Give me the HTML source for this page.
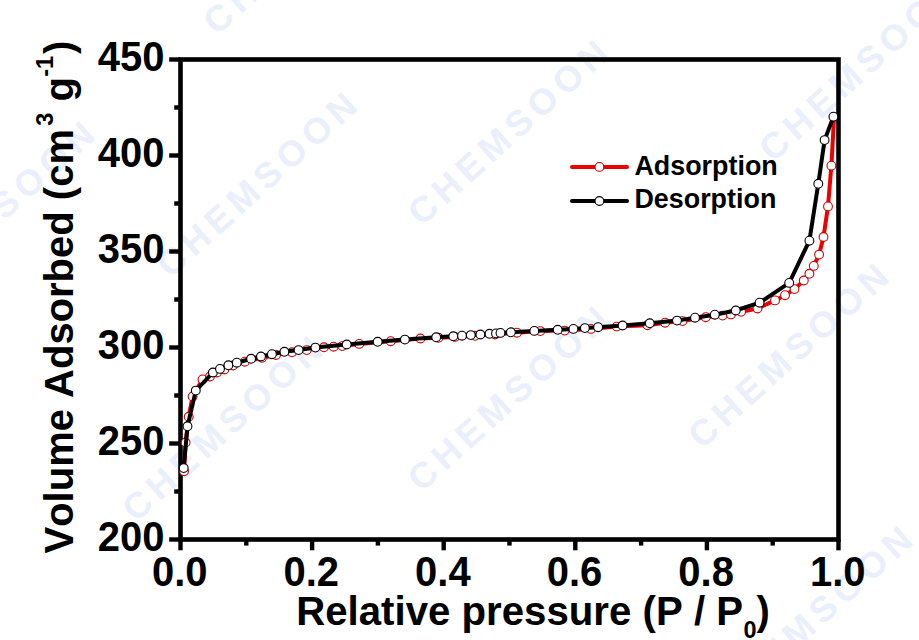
<!DOCTYPE html>
<html><head><meta charset="utf-8"><title>Isotherm</title>
<style>
html,body{margin:0;padding:0;background:#fff;}
body{width:919px;height:640px;overflow:hidden;}
svg{display:block;}
text{font-family:"Liberation Sans",Arial,sans-serif;font-weight:bold;fill:#000;font-kerning:none;}
.wm text{font-size:36px;letter-spacing:6px;fill:#e9f0fb;}
.lbl text{font-size:40px;}
.ttl{font-size:40px;}
.sup{font-size:23.5px;}
.leg{font-size:26.9px;}
</style></head>
<body>
<svg width="919" height="640" viewBox="0 0 919 640">
<rect width="919" height="640" fill="#fff"/>
<g class="wm"><text transform="translate(170.5 279) rotate(-42)">CHEMSOON</text><text transform="translate(421.7 227) rotate(-42)">CHEMSOON</text><text transform="translate(773 163) rotate(-42)">CHEMSOON</text><text transform="translate(136 523) rotate(-42)">CHEMSOON</text><text transform="translate(421.5 493) rotate(-42)">CHEMSOON</text><text transform="translate(702 450) rotate(-42)">CHEMSOON</text><text transform="translate(-92 308) rotate(-42)">CHEMSOON</text><text transform="translate(217 36) rotate(-42)">CHEMSOON</text><text transform="translate(726 713) rotate(-42)">CHEMSOON</text></g>
<g stroke="#000" stroke-width="4.4" stroke-linecap="butt"><rect x="180.5" y="59.5" width="658.0" height="480.0" fill="none" stroke="#000" stroke-width="4.6"/><line x1="169.2" y1="539.5" x2="180.5" y2="539.5"/><line x1="174.2" y1="491.5" x2="180.5" y2="491.5"/><line x1="169.2" y1="443.5" x2="180.5" y2="443.5"/><line x1="174.2" y1="395.5" x2="180.5" y2="395.5"/><line x1="169.2" y1="347.5" x2="180.5" y2="347.5"/><line x1="174.2" y1="299.5" x2="180.5" y2="299.5"/><line x1="169.2" y1="251.5" x2="180.5" y2="251.5"/><line x1="174.2" y1="203.5" x2="180.5" y2="203.5"/><line x1="169.2" y1="155.5" x2="180.5" y2="155.5"/><line x1="174.2" y1="107.5" x2="180.5" y2="107.5"/><line x1="169.2" y1="59.5" x2="180.5" y2="59.5"/><line x1="180.5" y1="539.5" x2="180.5" y2="550.3"/><line x1="246.3" y1="539.5" x2="246.3" y2="545.6"/><line x1="312.1" y1="539.5" x2="312.1" y2="550.3"/><line x1="377.9" y1="539.5" x2="377.9" y2="545.6"/><line x1="443.7" y1="539.5" x2="443.7" y2="550.3"/><line x1="509.5" y1="539.5" x2="509.5" y2="545.6"/><line x1="575.3" y1="539.5" x2="575.3" y2="550.3"/><line x1="641.1" y1="539.5" x2="641.1" y2="545.6"/><line x1="706.9" y1="539.5" x2="706.9" y2="550.3"/><line x1="772.7" y1="539.5" x2="772.7" y2="545.6"/><line x1="838.5" y1="539.5" x2="838.5" y2="550.3"/></g>
<polyline points="184.0,471.3 185.6,442.5 188.7,416.8 192.6,396.5 202.5,379.4 210.0,376.5 217.0,372.5 224.4,369.5 233.0,365.5 244.8,361.7 262.0,357.8 276.0,355.0 292.0,352.3 306.7,350.1 323.9,347.3 333.6,346.7 342.3,346.1 359.2,343.9 390.7,341.2 420.4,338.5 438.5,337.8 455.0,336.9 475.0,335.8 495.0,334.5 516.9,332.7 540.3,331.1 564.7,330.6 590.9,328.9 616.7,326.6 647.5,325.2 665.1,322.7 682.5,321.1 705.8,317.2 722.6,315.6 730.9,314.4 741.1,311.8 757.5,308.5 775.0,300.4 785.0,295.2 794.5,289.1 803.8,280.5 809.4,273.8 813.8,265.9 819.1,254.6 823.5,237.0 828.0,206.4 831.4,165.7 834.0,118.5" fill="none" stroke="#ee0000" stroke-width="4" stroke-linejoin="round"/>
<g fill="#fff" stroke="#cc0000" stroke-width="1.1"><circle cx="184.0" cy="471.3" r="4.4"/><circle cx="185.6" cy="442.5" r="4.4"/><circle cx="188.7" cy="416.8" r="4.4"/><circle cx="192.6" cy="396.5" r="4.4"/><circle cx="202.5" cy="379.4" r="4.4"/><circle cx="210.0" cy="376.5" r="4.4"/><circle cx="217.0" cy="372.5" r="4.4"/><circle cx="224.4" cy="369.5" r="4.4"/><circle cx="233.0" cy="365.5" r="4.4"/><circle cx="244.8" cy="361.7" r="4.4"/><circle cx="262.0" cy="357.8" r="4.4"/><circle cx="276.0" cy="355.0" r="4.4"/><circle cx="292.0" cy="352.3" r="4.4"/><circle cx="306.7" cy="350.1" r="4.4"/><circle cx="323.9" cy="347.3" r="4.4"/><circle cx="333.6" cy="346.7" r="4.4"/><circle cx="342.3" cy="346.1" r="4.4"/><circle cx="359.2" cy="343.9" r="4.4"/><circle cx="390.7" cy="341.2" r="4.4"/><circle cx="420.4" cy="338.5" r="4.4"/><circle cx="438.5" cy="337.8" r="4.4"/><circle cx="455.0" cy="336.9" r="4.4"/><circle cx="475.0" cy="335.8" r="4.4"/><circle cx="495.0" cy="334.5" r="4.4"/><circle cx="516.9" cy="332.7" r="4.4"/><circle cx="540.3" cy="331.1" r="4.4"/><circle cx="564.7" cy="330.6" r="4.4"/><circle cx="590.9" cy="328.9" r="4.4"/><circle cx="616.7" cy="326.6" r="4.4"/><circle cx="647.5" cy="325.2" r="4.4"/><circle cx="665.1" cy="322.7" r="4.4"/><circle cx="682.5" cy="321.1" r="4.4"/><circle cx="705.8" cy="317.2" r="4.4"/><circle cx="722.6" cy="315.6" r="4.4"/><circle cx="730.9" cy="314.4" r="4.4"/><circle cx="741.1" cy="311.8" r="4.4"/><circle cx="757.5" cy="308.5" r="4.4"/><circle cx="775.0" cy="300.4" r="4.4"/><circle cx="785.0" cy="295.2" r="4.4"/><circle cx="794.5" cy="289.1" r="4.4"/><circle cx="803.8" cy="280.5" r="4.4"/><circle cx="809.4" cy="273.8" r="4.4"/><circle cx="813.8" cy="265.9" r="4.4"/><circle cx="819.1" cy="254.6" r="4.4"/><circle cx="823.5" cy="237.0" r="4.4"/><circle cx="828.0" cy="206.4" r="4.4"/><circle cx="831.4" cy="165.7" r="4.4"/></g>
<polyline points="183.7,468.1 187.5,426.3 195.8,390.6 212.9,372.5 220.0,368.9 228.4,365.3 236.8,362.7 251.1,358.8 261.0,356.5 271.9,354.2 284.4,351.8 298.6,350.1 315.4,347.6 346.7,344.5 377.7,341.8 404.9,339.6 436.2,337.3 453.3,336.3 462.0,335.7 470.8,335.1 480.4,334.5 489.5,333.8 496.0,333.4 500.5,332.9 510.9,332.3 534.3,330.9 557.7,329.8 573.4,328.9 584.9,328.1 598.1,327.2 622.6,325.5 649.8,323.3 677.0,320.6 695.0,317.7 714.8,314.7 735.8,310.5 759.6,302.7 789.2,282.9 809.4,240.7 818.3,183.8 824.6,140.1 833.4,116.7" fill="none" stroke="#000" stroke-width="4" stroke-linejoin="round"/>
<g fill="#fff" stroke="#000" stroke-width="1.1"><circle cx="183.7" cy="468.1" r="4.4"/><circle cx="187.5" cy="426.3" r="4.4"/><circle cx="195.8" cy="390.6" r="4.4"/><circle cx="212.9" cy="372.5" r="4.4"/><circle cx="220.0" cy="368.9" r="4.4"/><circle cx="228.4" cy="365.3" r="4.4"/><circle cx="236.8" cy="362.7" r="4.4"/><circle cx="251.1" cy="358.8" r="4.4"/><circle cx="261.0" cy="356.5" r="4.4"/><circle cx="271.9" cy="354.2" r="4.4"/><circle cx="284.4" cy="351.8" r="4.4"/><circle cx="298.6" cy="350.1" r="4.4"/><circle cx="315.4" cy="347.6" r="4.4"/><circle cx="346.7" cy="344.5" r="4.4"/><circle cx="377.7" cy="341.8" r="4.4"/><circle cx="404.9" cy="339.6" r="4.4"/><circle cx="436.2" cy="337.3" r="4.4"/><circle cx="453.3" cy="336.3" r="4.4"/><circle cx="462.0" cy="335.7" r="4.4"/><circle cx="470.8" cy="335.1" r="4.4"/><circle cx="480.4" cy="334.5" r="4.4"/><circle cx="489.5" cy="333.8" r="4.4"/><circle cx="496.0" cy="333.4" r="4.4"/><circle cx="500.5" cy="332.9" r="4.4"/><circle cx="510.9" cy="332.3" r="4.4"/><circle cx="534.3" cy="330.9" r="4.4"/><circle cx="557.7" cy="329.8" r="4.4"/><circle cx="573.4" cy="328.9" r="4.4"/><circle cx="584.9" cy="328.1" r="4.4"/><circle cx="598.1" cy="327.2" r="4.4"/><circle cx="622.6" cy="325.5" r="4.4"/><circle cx="649.8" cy="323.3" r="4.4"/><circle cx="677.0" cy="320.6" r="4.4"/><circle cx="695.0" cy="317.7" r="4.4"/><circle cx="714.8" cy="314.7" r="4.4"/><circle cx="735.8" cy="310.5" r="4.4"/><circle cx="759.6" cy="302.7" r="4.4"/><circle cx="789.2" cy="282.9" r="4.4"/><circle cx="809.4" cy="240.7" r="4.4"/><circle cx="818.3" cy="183.8" r="4.4"/><circle cx="824.6" cy="140.1" r="4.4"/><circle cx="833.4" cy="116.7" r="4.4"/></g>
<g class="lbl"><text x="164.4" y="550.8" text-anchor="end" transform="matrix(1 0 0 1.075 0 -41.31)">200</text><text x="164.4" y="454.8" text-anchor="end" transform="matrix(1 0 0 1.075 0 -34.11)">250</text><text x="164.4" y="358.8" text-anchor="end" transform="matrix(1 0 0 1.075 0 -26.91)">300</text><text x="164.4" y="262.8" text-anchor="end" transform="matrix(1 0 0 1.075 0 -19.71)">350</text><text x="164.4" y="166.8" text-anchor="end" transform="matrix(1 0 0 1.075 0 -12.51)">400</text><text x="164.4" y="70.8" text-anchor="end" transform="matrix(1 0 0 1.075 0 -5.31)">450</text><text x="179.7" y="586.0" text-anchor="middle" transform="matrix(1 0 0 1.075 0 -43.95)">0.0</text><text x="311.3" y="586.0" text-anchor="middle" transform="matrix(1 0 0 1.075 0 -43.95)">0.2</text><text x="442.9" y="586.0" text-anchor="middle" transform="matrix(1 0 0 1.075 0 -43.95)">0.4</text><text x="574.5" y="586.0" text-anchor="middle" transform="matrix(1 0 0 1.075 0 -43.95)">0.6</text><text x="706.1" y="586.0" text-anchor="middle" transform="matrix(1 0 0 1.075 0 -43.95)">0.8</text><text x="837.7" y="586.0" text-anchor="middle" transform="matrix(1 0 0 1.075 0 -43.95)">1.0</text></g>
<g transform="matrix(1 0 0 1.015 0 -9.37)"><text class="ttl" x="296.2" y="624.6" style="font-size:40.2px">Relative pressure (P / P</text><text class="sup" x="743.4" y="638.2">0</text><text class="ttl" x="756.5" y="624.6">)</text></g>
<g transform="translate(73.3 553.5) rotate(-90) scale(1 1.015)"><text class="ttl" x="0" y="0">Volume Adsorbed (cm</text><text class="sup" x="427.8" y="-20.2">3</text><text class="ttl" x="452" y="0">g</text><text class="sup" x="476.7" y="-20.2">-1</text><text class="ttl" x="499.4" y="0">)</text></g>
<line x1="572" y1="166.9" x2="627" y2="166.9" stroke="#ee0000" stroke-width="4" stroke-linecap="round"/>
<circle cx="599.4" cy="166.9" r="4.4" fill="#fff" stroke="#cc0000" stroke-width="1.1"/>
<line x1="572" y1="201" x2="627" y2="201" stroke="#000" stroke-width="4" stroke-linecap="round"/>
<circle cx="599.4" cy="201" r="4.4" fill="#fff" stroke="#000" stroke-width="1.1"/>
<text class="leg" x="634.4" y="175" transform="matrix(1 0 0 1.015 0 -2.62)">Adsorption</text>
<text class="leg" x="634.4" y="208.4" transform="matrix(1 0 0 1.015 0 -3.13)">Desorption</text>
</svg>
</body></html>
